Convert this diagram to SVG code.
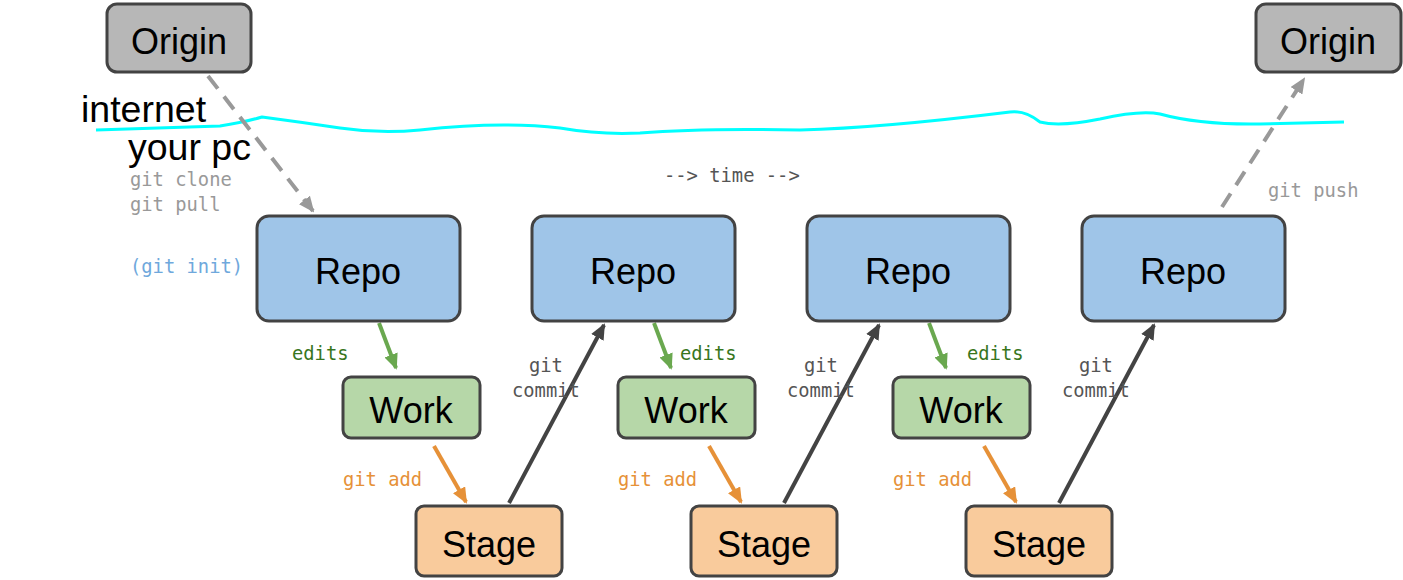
<svg xmlns="http://www.w3.org/2000/svg" width="1403" height="580" viewBox="0 0 1403 580">
<style>
.box{stroke:#434343;stroke-width:3}
.repo{fill:#9fc5e8}.work{fill:#b6d7a8}.stage{fill:#f9cb9c}.origin{fill:#b7b7b7}
.lbl{font-family:"Liberation Sans",Arial,sans-serif;font-size:36px;fill:#000;text-anchor:middle}
.big{font-family:"Liberation Sans",Arial,sans-serif;font-size:37.5px;fill:#000}
.mono{font-family:"DejaVu Sans Mono",monospace;font-size:18.8px}
.gray{fill:#999}.dark{fill:#555}.green{fill:#38761d}.orange{fill:#e69138}.blue{fill:#6fa8dc}
.c{fill:none;stroke-width:4}
</style>
<defs>
<marker id="ag" markerUnits="userSpaceOnUse" markerWidth="16" markerHeight="14" refX="14" refY="7" orient="auto"><path d="M0,0 L16,7 L0,14 z" fill="#6aa84f"/></marker>
<marker id="ao" markerUnits="userSpaceOnUse" markerWidth="16" markerHeight="14" refX="14" refY="7" orient="auto"><path d="M0,0 L16,7 L0,14 z" fill="#e69138"/></marker>
<marker id="ad" markerUnits="userSpaceOnUse" markerWidth="16" markerHeight="14" refX="14" refY="7" orient="auto"><path d="M0,0 L16,7 L0,14 z" fill="#434343"/></marker>
<marker id="ay" markerUnits="userSpaceOnUse" markerWidth="16" markerHeight="14" refX="14" refY="7" orient="auto"><path d="M0,0 L16,7 L0,14 z" fill="#999"/></marker>
</defs>

<path d="M96,130 L220,126 Q245,122 262,117 Q300,122 340,128 Q380,134 420,130 Q500,121 560,128 Q600,135 640,133 Q700,128 800,130 Q880,128 1010,112 Q1025,110 1040,122 Q1060,127 1100,119 Q1140,110 1160,114 Q1200,125 1260,124 L1344,122" fill="none" stroke="#00ffff" stroke-width="3"/>

<g id="labels">
<text class="big" x="81" y="122">internet</text>
<text class="big" x="128" y="160">your pc</text>
<text class="mono gray" x="130" y="186">git clone</text>
<text class="mono gray" x="130" y="211">git pull</text>
<text class="mono blue" x="130" y="273">(git init)</text>
<text class="mono dark" x="664" y="182">--&gt; time --&gt;</text>
<text class="mono gray" x="1268" y="197">git push</text>
</g>

<g id="connectors">
<line class="c" x1="208" y1="76" x2="313" y2="211" stroke="#999" stroke-dasharray="16,10" marker-end="url(#ay)"/>
<line class="c" x1="1222" y1="207" x2="1304" y2="79" stroke="#999" stroke-dasharray="16,10" marker-end="url(#ay)"/>
<g id="step1">
<line class="c" x1="379" y1="323" x2="396" y2="368" stroke="#6aa84f" marker-end="url(#ag)"/>
<line class="c" x1="434" y1="446" x2="466" y2="502" stroke="#e69138" marker-end="url(#ao)"/>
<line class="c" x1="509" y1="503" x2="604" y2="325" stroke="#434343" marker-end="url(#ad)"/>
<text class="mono green" x="292" y="360">edits</text>
<text class="mono orange" x="343" y="486">git add</text>
<text class="mono dark" x="529" y="372">git</text>
<text class="mono dark" x="512" y="397">commit</text>
</g>
<g id="step2" transform="translate(275,0)">
<line class="c" x1="379" y1="323" x2="396" y2="368" stroke="#6aa84f" marker-end="url(#ag)"/>
<line class="c" x1="434" y1="446" x2="466" y2="502" stroke="#e69138" marker-end="url(#ao)"/>
<line class="c" x1="509" y1="503" x2="604" y2="325" stroke="#434343" marker-end="url(#ad)"/>
<text class="mono green" x="405" y="360">edits</text>
<text class="mono orange" x="343" y="486">git add</text>
<text class="mono dark" x="529" y="372">git</text>
<text class="mono dark" x="512" y="397">commit</text>
</g>
<g id="step3" transform="translate(550,0)">
<line class="c" x1="379" y1="323" x2="396" y2="368" stroke="#6aa84f" marker-end="url(#ag)"/>
<line class="c" x1="434" y1="446" x2="466" y2="502" stroke="#e69138" marker-end="url(#ao)"/>
<line class="c" x1="509" y1="503" x2="604" y2="325" stroke="#434343" marker-end="url(#ad)"/>
<text class="mono green" x="417" y="360">edits</text>
<text class="mono orange" x="343" y="486">git add</text>
<text class="mono dark" x="529" y="372">git</text>
<text class="mono dark" x="512" y="397">commit</text>
</g>
</g>

<g id="origin1"><rect class="box origin" x="107" y="4" width="144" height="68" rx="10"/><text class="lbl" x="179" y="54">Origin</text></g>
<g id="origin2"><rect class="box origin" x="1256" y="4" width="145" height="68" rx="10"/><text class="lbl" x="1328" y="54">Origin</text></g>

<g id="repo1"><rect class="box repo" x="257" y="216" width="203" height="105" rx="12"/><text class="lbl" x="358" y="284">Repo</text></g>
<g id="repo2"><rect class="box repo" x="532" y="216" width="203" height="105" rx="12"/><text class="lbl" x="633" y="284">Repo</text></g>
<g id="repo3"><rect class="box repo" x="807" y="216" width="203" height="105" rx="12"/><text class="lbl" x="908" y="284">Repo</text></g>
<g id="repo4"><rect class="box repo" x="1082" y="216" width="203" height="105" rx="12"/><text class="lbl" x="1183" y="284">Repo</text></g>

<g id="work1"><rect class="box work" x="343" y="377" width="137" height="61" rx="8"/><text class="lbl" x="411" y="423">Work</text></g>
<g id="work2"><rect class="box work" x="618" y="377" width="137" height="61" rx="8"/><text class="lbl" x="686" y="423">Work</text></g>
<g id="work3"><rect class="box work" x="893" y="377" width="137" height="61" rx="8"/><text class="lbl" x="961" y="423">Work</text></g>

<g id="stage1"><rect class="box stage" x="416" y="506" width="146" height="70" rx="8"/><text class="lbl" x="489" y="557">Stage</text></g>
<g id="stage2"><rect class="box stage" x="691" y="506" width="146" height="70" rx="8"/><text class="lbl" x="764" y="557">Stage</text></g>
<g id="stage3"><rect class="box stage" x="966" y="506" width="146" height="70" rx="8"/><text class="lbl" x="1039" y="557">Stage</text></g>
</svg>
